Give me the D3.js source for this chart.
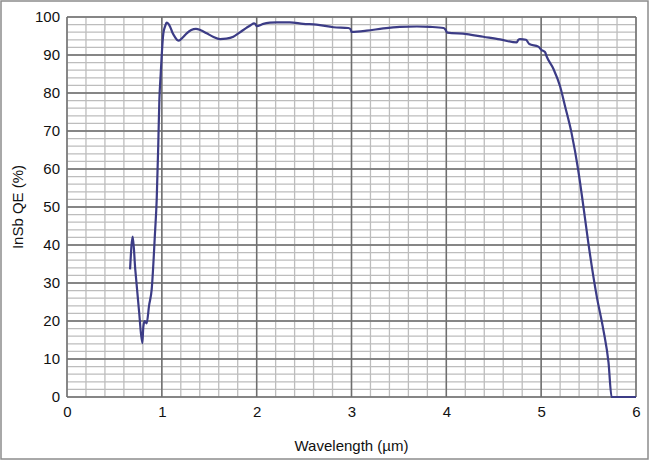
<!DOCTYPE html>
<html><head><meta charset="utf-8">
<script src="https://cdn.jsdelivr.net/npm/d3@7"></script>
<style>body{margin:0;background:#fff}svg{display:block}</style>
</head><body><div id="chart"></div>
<script>
const wavelength = [0.665,0.693,0.72,0.76,0.794,0.805,0.819,0.84,0.865,0.893,0.928,0.946,0.962,0.974,0.988,0.998,1.016,1.035,1.051,1.07,1.086,1.11,1.139,1.16,1.181,1.22,1.262,1.31,1.36,1.41,1.473,1.54,1.614,1.68,1.754,1.82,1.895,1.94,1.972,1.985,2.0,2.07,2.14,2.21,2.35,2.49,2.63,2.81,2.966,2.99,3.0,3.16,3.335,3.51,3.69,3.83,3.97,3.99,4.01,4.215,4.39,4.566,4.742,4.76,4.777,4.84,4.875,4.97,5.005,5.04,5.058,5.13,5.2,5.25,5.32,5.39,5.445,5.497,5.585,5.655,5.71,5.743,5.85,6.0];
const qe = [33.6,42.2,33.5,22.5,14.2,18.5,20.0,19.4,24.0,28.3,43.2,52.0,66.0,78.2,85.0,89.6,95.7,97.6,98.5,98.2,97.5,96.0,94.7,94.0,93.8,94.6,95.7,96.6,96.9,96.5,95.7,94.8,94.2,94.3,94.8,95.9,97.2,97.9,98.3,98.2,97.6,98.2,98.5,98.6,98.6,98.2,98.0,97.3,97.1,96.8,96.1,96.4,97.0,97.4,97.5,97.4,97.1,96.7,95.9,95.5,94.8,94.1,93.3,94.0,94.2,94.0,92.9,92.2,91.3,90.8,89.6,86.3,81.7,76.7,69.5,59.8,50.2,40.6,26.6,17.8,9.1,0,0,0];
const xTicks = [0,1,2,3,4,5,6];
const yTicks = [0,10,20,30,40,50,60,70,80,90,100];

const W = 650, H = 461;
const m = {left:67, right:14, top:17, bottom:64};
const svg = d3.select("#chart").append("svg").attr("width",W).attr("height",H);

svg.append("rect").attr("x",1).attr("y",1).attr("width",W-3).attr("height",H-3)
  .attr("fill","none").attr("stroke","#8c8c8c").attr("stroke-width",1.5);

const x = d3.scaleLinear().domain([0,6]).range([m.left, W-m.right]);
const y = d3.scaleLinear().domain([0,100]).range([H-m.bottom, m.top]);

const g = svg.append("g");
// minor grid
g.selectAll(".vx").data(d3.range(0,6.001,0.2)).join("line")
  .attr("x1",d=>x(d)).attr("x2",d=>x(d)).attr("y1",y(0)).attr("y2",y(100))
  .attr("stroke","#bdbdbd").attr("stroke-width",1.3);
g.selectAll(".hy").data(d3.range(0,100.001,2)).join("line")
  .attr("y1",d=>y(d)).attr("y2",d=>y(d)).attr("x1",x(0)).attr("x2",x(6))
  .attr("stroke","#bdbdbd").attr("stroke-width",1.3);
// major grid
g.selectAll(".mx").data(xTicks).join("line")
  .attr("x1",d=>x(d)).attr("x2",d=>x(d)).attr("y1",y(0)).attr("y2",y(100))
  .attr("stroke","#6e6e6e").attr("stroke-width",1.5);
g.selectAll(".my").data(yTicks).join("line")
  .attr("y1",d=>y(d)).attr("y2",d=>y(d)).attr("x1",x(0)).attr("x2",x(6))
  .attr("stroke","#6e6e6e").attr("stroke-width",1.5);

// axes labels via d3 axes
const font = "Liberation Sans, Arial, sans-serif";
const xAxis = svg.append("g").attr("transform",`translate(0,${y(0)})`)
  .call(d3.axisBottom(x).tickValues(xTicks).tickSize(0).tickPadding(9).tickFormat(d3.format("d")));
const yAxis = svg.append("g").attr("transform",`translate(${x(0)},0)`)
  .call(d3.axisLeft(y).tickValues(yTicks).tickSize(0).tickPadding(7).tickFormat(d3.format("d")));
[xAxis,yAxis].forEach(a=>{
  a.select(".domain").remove();
  a.selectAll("text").attr("font-family",font).attr("font-size",15).attr("fill","#111");
});

// line
svg.append("path").datum(wavelength.map((w,i)=>[w,qe[i]]))
  .attr("d", d3.line().x(d=>x(d[0])).y(d=>y(d[1])).curve(d3.curveMonotoneX))
  .attr("fill","none").attr("stroke","#3c3c86").attr("stroke-width",2.2)
  .attr("stroke-linejoin","round");

svg.append("text").attr("x",(x(0)+x(6))/2).attr("y",451).attr("text-anchor","middle")
  .attr("font-family",font).attr("font-size",15).attr("fill","#111").text("Wavelength (µm)");
svg.append("text").attr("transform",`translate(23,${(y(0)+y(100))/2}) rotate(-90)`)
  .attr("text-anchor","middle").attr("font-family",font).attr("font-size",15).attr("fill","#111")
  .text("InSb QE (%)");
</script></body></html>
